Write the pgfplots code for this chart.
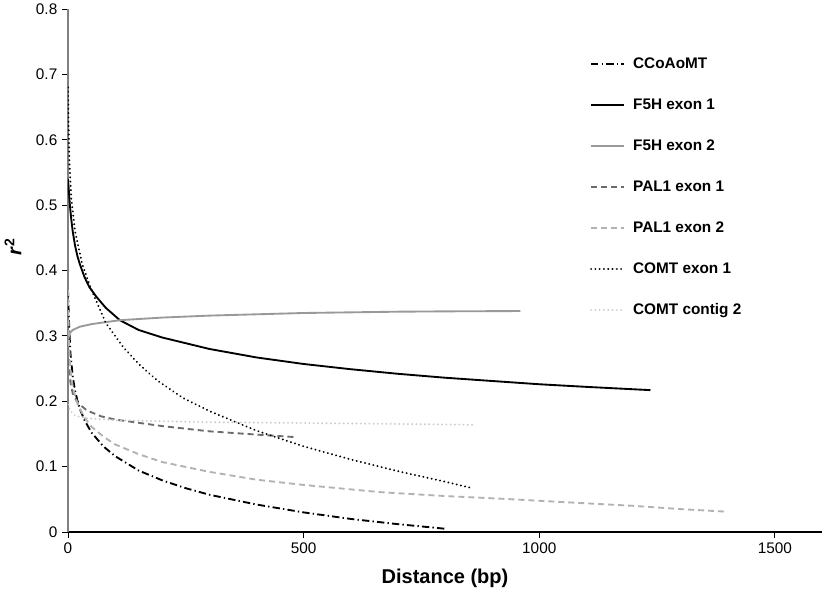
\documentclass[border=0pt]{standalone}
\usepackage{fontspec}
\setmainfont{Liberation Sans}
\usepackage{pgfplots}
\pgfplotsset{compat=1.18}
\definecolor{gA}{gray}{0.6}
\definecolor{gB}{gray}{0.42}
\definecolor{gC}{gray}{0.70}
\definecolor{gD}{gray}{0.80}
\begin{document}
\begin{tikzpicture}
\useasboundingbox (-51pt,-42.75pt) rectangle (566.25pt,399pt);
\begin{axis}[
 at={(0,0)}, anchor=south west,
 scale only axis, width=565.5pt, height=392.25pt,
 xmin=0, xmax=1600, ymin=0, ymax=0.8,
 axis x line=bottom, axis y line=left,
 x axis line style={-, black, line width=0.8pt},
 y axis line style={-, gray, line width=0.8pt},
 xtick={0,500,1000,1500}, ytick={0,0.1,0.2,0.3,0.4,0.5,0.6,0.7,0.8},
 tick align=outside, major tick length=4.5pt,
 tick style={black, line width=0.6pt},
 ticklabel style={font=\fontsize{11.5}{13}\selectfont},
 /pgf/number format/assume math mode=true,
 xticklabel style={/pgf/number format/1000 sep={}},
 yticklabel style={/pgf/number format/fixed, /pgf/number format/precision=1},
 xlabel={\textbf{Distance (bp)}},
 ylabel={\textbf{\textit{r}\textsuperscript{2}}},
 label style={font=\fontsize{15}{17}\selectfont},
 xlabel style={at={(axis description cs:0.5,-0.088)}, anchor=center},
 ylabel style={at={(axis description cs:-0.073,0.545)}, anchor=center},
 legend style={at={(axis description cs:0.692,0.9077)}, anchor=north west,
   draw=none, fill=none, inner sep=0pt, row sep=20.75pt, column sep=6pt,
   font=\bfseries\fontsize{11.5}{13}\selectfont,
   nodes={inner sep=0pt, text height=8pt, text depth=2pt}},
 legend cell align=left,
 legend image code/.code={\draw[#1] (0pt,0pt) -- (24.75pt,0pt);},
 every axis plot/.append style={line width=1.4pt, line join=round},
]
% CCoAoMT
\addplot[black, dash pattern=on 5.5pt off 2.4pt on 1pt off 2.4pt] coordinates {
(0,0.37) (2,0.323) (5,0.275) (10,0.238) (15,0.216) (20,0.201) (27,0.185) (35,0.171) (50,0.152) (75,0.131) (100,0.116) (150,0.094) (200,0.079) (250,0.067) (300,0.057) (400,0.042) (500,0.030) (600,0.020) (700,0.012) (800,0.005)};
\addlegendentry{CCoAoMT}
% F5H exon 1
\addplot[black] coordinates {
(0,0.54) (1,0.53) (2,0.52) (4,0.50) (7,0.478) (10,0.46) (15,0.438) (20,0.422) (25,0.41) (35,0.39) (45,0.375) (60,0.36) (80,0.343) (110,0.324) (150,0.309) (200,0.2975) (300,0.280) (400,0.267) (500,0.257) (600,0.249) (700,0.242) (800,0.236) (900,0.231) (1000,0.226) (1100,0.222) (1236,0.217)};
\addlegendentry{F5H exon 1}
% F5H exon 2
\addplot[gA] coordinates {
(0,0.29) (2,0.30) (5,0.305) (10,0.309) (25,0.314) (50,0.318) (110,0.324) (200,0.328) (300,0.331) (400,0.333) (500,0.335) (600,0.336) (700,0.337) (800,0.3375) (960,0.338)};
\addlegendentry{F5H exon 2}
% PAL1 exon 1
\addplot[gB, dash pattern=on 4.5pt off 3pt] coordinates {
(0,0.31) (2,0.26) (5,0.23) (10,0.212) (20,0.198) (40,0.186) (70,0.177) (100,0.172) (150,0.167) (200,0.162) (300,0.154) (400,0.149) (486,0.145)};
\addlegendentry{PAL1 exon 1}
% PAL1 exon 2
\addplot[gC, dash pattern=on 4.5pt off 3pt] coordinates {
(0,0.37) (1,0.33) (2,0.29) (5,0.25) (10,0.222) (20,0.196) (35,0.175) (50,0.161) (75,0.146) (100,0.134) (150,0.119) (200,0.107) (300,0.092) (400,0.080) (500,0.072) (662,0.061) (800,0.055) (917,0.051) (1045,0.046) (1200,0.040) (1300,0.035) (1400,0.031)};
\addlegendentry{PAL1 exon 2}
% COMT exon 1
\addplot[black, line width=1.6pt, line cap=round, dash pattern=on 0.01pt off 3.2pt] coordinates {
(0,0.68) (1,0.63) (3,0.565) (7,0.51) (15,0.46) (30,0.41) (50,0.37) (80,0.32) (117,0.283) (150,0.257) (189,0.232) (244,0.205) (300,0.185) (400,0.155) (500,0.131) (600,0.111) (700,0.093) (800,0.077) (858,0.067)};
\addlegendentry{COMT exon 1}
% COMT contig 2
\addplot[gD, line width=1.6pt, line cap=round, dash pattern=on 0.01pt off 3.2pt] coordinates {
(0,0.195) (5,0.185) (15,0.178) (40,0.174) (100,0.171) (300,0.168) (600,0.166) (864,0.164)};
\addlegendentry{COMT contig 2}
\end{axis}
\end{tikzpicture}
\end{document}
